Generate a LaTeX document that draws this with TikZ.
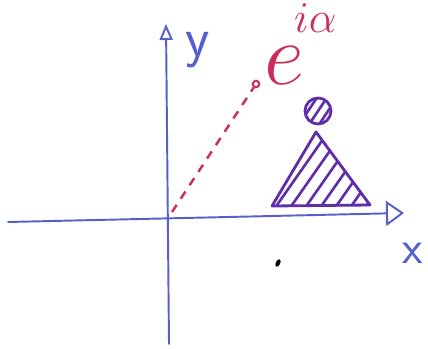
\RequirePackage{fix-cm}
\documentclass[tikz,border=0pt]{standalone}
\usepackage{fontspec}
\usetikzlibrary{arrows.meta,shapes.geometric}

\definecolor{axisblue}{RGB}{85,95,205}
\definecolor{conepurple}{RGB}{95,45,170}
\definecolor{rayred}{RGB}{205,45,90}

\begin{document}
\begin{tikzpicture}[x=0.02cm, y=-0.02cm,
  % Line Styles
  axis/.style={draw=axisblue, line width=1.1pt, line cap=round,
    -{Triangle[open, length=0.36cm, width=0.5cm, line width=1.1pt]}},
  ray/.style={draw=rayred, line width=1.4pt, dash pattern=on 0.17cm off 0.15cm},
  body/.style={draw=conepurple, line width=1.6pt, line join=round},
  hatch/.style={draw=conepurple, line width=1.5pt, line cap=round},
  % Node Styles
  ball/.style={circle, draw=conepurple, line width=1.6pt, minimum size=0.52cm, inner sep=0pt},
  tipdot/.style={circle, draw=rayred, line width=1.2pt, minimum size=0.13cm, inner sep=0pt},
  lbl/.style={font=\sffamily\fontsize{32}{34}\selectfont, inner sep=0pt},
]
\useasboundingbox (0,0) rectangle (428,348);

% axes
\coordinate (xstart) at (8,222);
\coordinate (xend) at (404,213);
\coordinate (ystart) at (169,344);
\coordinate (yend) at (166,24);
\draw[axis] (xstart) -- (xend);
\draw[axis, -{Triangle[open, length=0.32cm, width=0.26cm, line width=1.1pt]}] (ystart) -- (yend);
\node[lbl, text=axisblue] (ylab) at (198,50) {y};
\node[lbl, text=axisblue, font=\sffamily\fontsize{27}{29}\selectfont] (xlab) at (413,253) {x};

% ray to the point e^{i alpha}
\coordinate (O) at (172,212);
\node[tipdot] (P) at (256,84) {};
\draw[ray] (O) -- (P);
\node[text=rayred, font=\fontsize{50}{52}\selectfont, inner sep=0pt, anchor=base west] (elab) at (264,84)
  {$e^{\raisebox{0.4cm}{\hspace{-0.2cm}$\scriptscriptstyle i\alpha$}}$};

% cone with ball on top
\coordinate (cl) at (272,206);
\coordinate (ct) at (316,132);
\coordinate (cr) at (370,205);
\begin{scope}
  \clip (cl) -- (ct) -- (cr) -- cycle;
  \foreach \s in {240,255,...,380}
    \draw[hatch] (\s,215) -- ++(70,-100);
\end{scope}
\draw[body] (cl) -- (ct) -- (cr) -- cycle;
\node[ball] (head) at (318,111) {};
\begin{scope}
  \clip (head.center) circle[radius=12];
  \foreach \s in {298,308,...,336}
    \draw[hatch] (\s,126) -- ++(20,-30);
\end{scope}

% stray mark
\node[fill=black, ellipse, minimum width=0.09cm, minimum height=0.16cm, inner sep=0pt, rotate=-25] (speck) at (278,263) {};
\end{tikzpicture}
\end{document}
